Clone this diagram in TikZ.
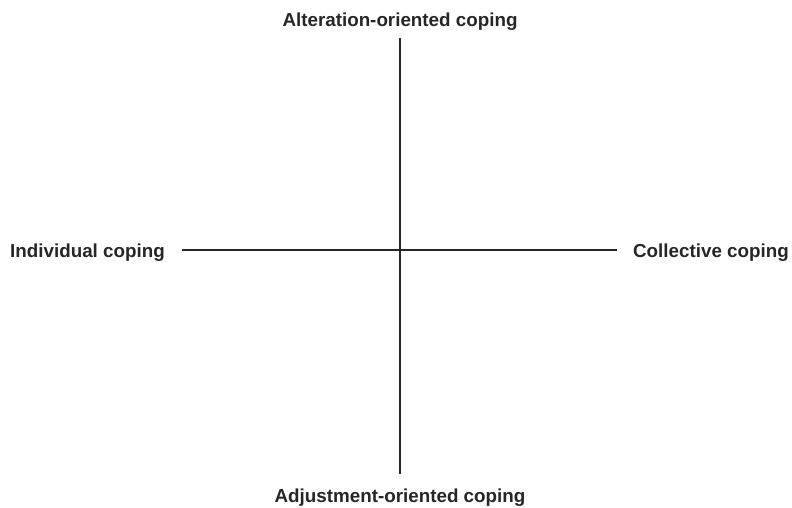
\documentclass[tikz,border=0pt]{standalone}
\usepackage{fontspec}
\setmainfont{Liberation Sans}
\begin{document}
\begin{tikzpicture}[x=1pt,y=-1pt,
  lbl/.style={inner sep=0pt,font=\fontsize{18.8}{22}\selectfont\bfseries,text=black!85},
  axis/.style={line width=1.5pt,black!85}]
\useasboundingbox (0,0) rectangle (792,508);
\node[lbl,anchor=base] (top) at (400,27) {Alteration-oriented coping};
\node[lbl,anchor=base] (bot) at (400,502) {Adjustment-oriented coping};
\node[lbl,anchor=base west] (left) at (10,257) {Individual coping};
\node[lbl,anchor=base east] (right) at (789,257) {Collective coping};
\coordinate (vt) at (400,38);
\coordinate (vb) at (400,474);
\coordinate (hl) at (182,250);
\coordinate (hr) at (617,250);
\draw[axis] (vt) -- (vb);
\draw[axis] (hl) -- (hr);
\end{tikzpicture}
\end{document}
